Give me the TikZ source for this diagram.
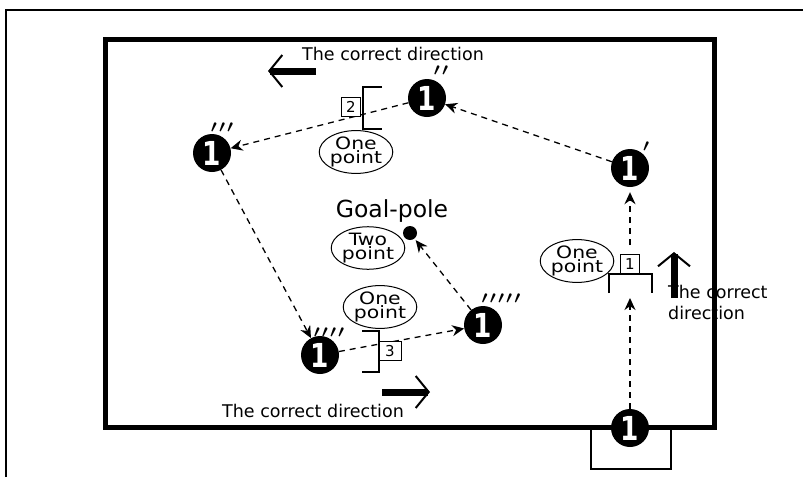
\documentclass[tikz,border=0pt]{standalone}
\usepackage{fontspec}
\setmainfont{DejaVu Sans}
\newfontfamily\widesans[FakeStretch=1.2]{DejaVu Sans}
\newfontfamily\flagsans[FakeStretch=0.8]{DejaVu Sans Bold}
\usetikzlibrary{arrows.meta,shapes.geometric}

\tikzset{
	flag/.style={circle, fill=black, minimum size=38pt, inner sep=0pt, text=white, font=\flagsans\fontsize{33}{33}\selectfont},
	ticks/.style={inner sep=0pt, font=\fontsize{19}{19}\selectfont\boldmath},
	numbox/.style={draw, line width=1pt, fill=white, minimum size=19pt, inner sep=0pt, font=\fontsize{15}{15}\selectfont},
	gatebar/.style={line width=2pt},
	pts/.style={ellipse, draw, line width=1pt, inner sep=0pt, minimum width=66pt, minimum height=37pt, align=center, font=\widesans\fontsize{17}{12.5}\selectfont},
	route/.style={dash pattern=on 6pt off 5pt, line width=1.3pt, -{Stealth[length=12pt,width=11pt]}},
	wayarrow/.style={line width=7pt, -{Straight Barb[length=13pt,width=32pt,line width=2pt]}},
	dirtext/.style={inner sep=0pt, font=\fontsize{17.5}{21}\selectfont}
}

\begin{document}
\begin{tikzpicture}[x=1pt, y=-1pt]
	\useasboundingbox (0,0) rectangle (803,477);
	% page frame and field
	\draw [line width=1.3pt] (6,477) -- (6,10) -- (803,10);
	\draw [line width=5pt] (105,39) rectangle (714,427);
	\draw [gatebar] (591,427) |- (671,469) -- (671,427);
	
	% route points
	\node [flag] (s0) at (630,428) {1};
	\node [flag] (s1) at (630,168) {1};
	\node [flag] (s2) at (427,98) {1};
	\node [flag] (s3) at (212,153) {1};
	\node [flag] (s4) at (320,355) {1};
	\node [flag] (s5) at (483,325) {1};
	\node [ticks] (t1) at (646,147) {${\prime}$};
	\node [ticks] (t2) at (441,71) {${\prime}\mkern2mu{\prime}$};
	\node [ticks] (t3) at (222,128) {${\prime}\mkern2mu{\prime}\mkern2mu{\prime}$};
	\node [ticks] (t4) at (329,333) {${\prime}\mkern2mu{\prime}\mkern2mu{\prime}\mkern2mu{\prime}$};
	\node [ticks] (t5) at (501,299) {${\prime}\mkern2mu{\prime}\mkern2mu{\prime}\mkern2mu{\prime}\mkern2mu{\prime}$};
	
	% goal pole
	\node [circle, fill=black, minimum size=14pt, inner sep=0pt] (pole) at (410,233) {};
	\node [anchor=base, inner sep=0pt, font=\fontsize{23.5}{23.5}\selectfont] (goal) at (392,217) {Goal-pole};
	
	% gate 1
	\node [numbox] (g1) at (630,264) {1};
	\draw [gatebar] (609,293) |- (652,274) -- (652,293);
	\coordinate (g1in) at (630,298);
	
	% dashed route
	\draw [route] (s0) -- (g1in);
	\draw [route, shorten <=9pt, shorten >=5pt] (g1) -- (s1);
	\draw [route] (s1) -- (s2);
	\draw [route] (s2) -- (s3);
	\draw [route] (s3) -- (s4);
	\draw [route] (s4) -- (s5);
	\draw [route, shorten >=2pt] (s5) -- (pole);
	
	% gates 2 and 3
	\node [numbox] (g2) at (351,107) {2};
	\draw [gatebar] (382,87) -| (363,129) -- (382,129);
	\node [numbox, minimum width=22pt] (g3) at (390,351) {3};
	\draw [gatebar] (362,331) -| (379,372) -- (362,372);
	
	% points
	\node [pts] (p1) at (577,261) {One\\point};
	\node [pts] (p2) at (356,152) {One\\point};
	\node [pts] (p3) at (380,307) {One\\point};
	\node [pts, minimum width=70pt, minimum height=40pt] (p4) at (368,248) {Two\\point};
	
	% direction arrows
	\coordinate (ltail) at (316,71);
	\coordinate (lhead) at (268,71);
	\draw [wayarrow] (ltail) -- (lhead);
	\node [dirtext, anchor=base west] (dtop) at (302,60) {The correct direction};
	
	\coordinate (utail) at (674,298);
	\coordinate (uhead) at (674,252);
	\draw [wayarrow] (utail) -- (uhead);
	\node [dirtext, anchor=base west, align=left] (dright) at (668,319) {The correct\\direction};
	
	\coordinate (rtail) at (382,392);
	\coordinate (rhead) at (430,392);
	\draw [wayarrow] (rtail) -- (rhead);
	\node [dirtext, anchor=base west] (dbottom) at (222,417) {The correct direction};
\end{tikzpicture}
\end{document}
